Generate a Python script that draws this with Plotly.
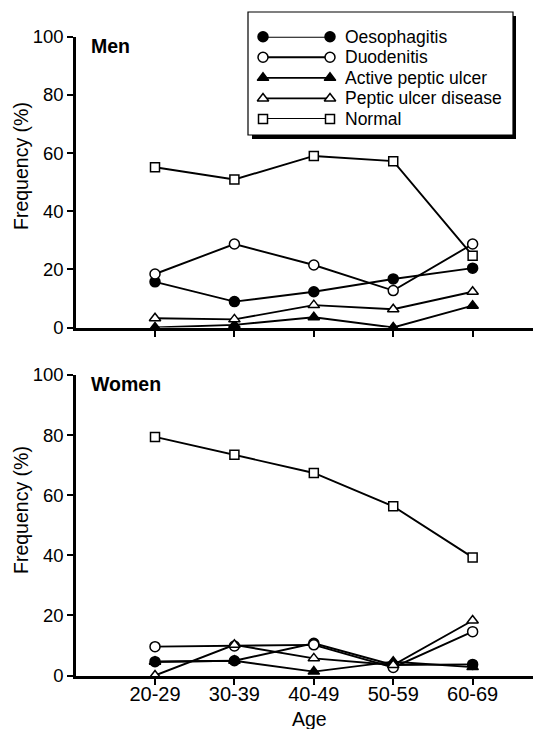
import plotly.graph_objects as go

# ---------------- data ----------------
age_groups = ["20-29", "30-39", "40-49", "50-59", "60-69"]
series_names = ["Oesophagitis", "Duodenitis", "Active peptic ulcer",
                "Peptic ulcer disease", "Normal"]

men_oesophagitis = [15.7, 8.9, 12.3, 16.7, 20.4]
men_duodenitis = [18.4, 28.7, 21.5, 12.7, 28.7]
men_active_ulcer = [0.0, 0.9, 3.5, 0.0, 7.5]
men_ulcer_disease = [3.2, 2.8, 7.7, 6.3, 12.3]
men_normal = [55.1, 50.9, 59.0, 57.2, 24.7]

women_oesophagitis = [4.6, 4.9, 10.7, 3.5, 3.7]
women_duodenitis = [9.6, 9.8, 10.2, 2.7, 14.6]
women_active_ulcer = [4.6, 4.9, 1.3, 4.6, 2.8]
women_ulcer_disease = [0.0, 10.2, 5.7, 3.5, 18.3]
women_normal = [79.4, 73.5, 67.4, 56.3, 39.3]

y_ticks = [0, 20, 40, 60, 80, 100]

# ---------------- geometry ----------------
# the page body has an 8px margin, so the figure is sized to fill the rest of the window
OFF = 8
W, H = 541 - OFF, 729 - OFF
FONT = "Liberation Sans, Arial, Helvetica, sans-serif"
styles = [
    dict(symbol="circle", color="black", size=10),
    dict(symbol="circle", color="white", size=10),
    dict(symbol="triangle-up", color="black", size=10),
    dict(symbol="triangle-up", color="white", size=10),
    dict(symbol="square", color="white", size=9),
]


def px_x(p):
    return (p - OFF) / W


def px_y(p):
    return 1 - (p - OFF) / H


fig = go.Figure()

panels = [
    ("x", "y", [men_oesophagitis, men_duodenitis, men_active_ulcer,
                men_ulcer_disease, men_normal]),
    ("x2", "y2", [women_oesophagitis, women_duodenitis, women_active_ulcer,
                  women_ulcer_disease, women_normal]),
]
for xa, ya, data in panels:
    for name, vals, st in zip(series_names, data, styles):
        fig.add_trace(go.Scatter(
            x=age_groups, y=vals, name=name, xaxis=xa, yaxis=ya,
            mode="lines+markers", cliponaxis=False, showlegend=False,
            line=dict(color="black", width=1.9),
            marker=dict(symbol=st["symbol"], size=st["size"], color=st["color"],
                        line=dict(color="black", width=1.5)),
        ))

# ---------------- custom legend (marker-line-marker) ----------------
for i, (name, st) in enumerate(zip(series_names, styles)):
    fig.add_trace(go.Scatter(
        x=[0, 1], y=[i, i], xaxis="x3", yaxis="y3", mode="lines+markers",
        cliponaxis=False, showlegend=False, hoverinfo="skip",
        line=dict(color="black", width=1.9),
        marker=dict(symbol=st["symbol"], size=st["size"], color=st["color"],
                    line=dict(color="black", width=1.5)),
    ))

leg_top, leg_bot = 36.7, 119.0
annotations = []
for i, name in enumerate(series_names):
    ypix = leg_top + i * (leg_bot - leg_top) / 4
    annotations.append(dict(
        text=name, x=px_x(343), y=px_y(ypix), xref="paper", yref="paper",
        xanchor="left", yanchor="middle", showarrow=False,
        font=dict(family=FONT, size=17.5, color="black")))

# panel titles
annotations.append(dict(text="<b>Men</b>", x=px_x(89), y=px_y(46), xref="paper", yref="paper",
                        xanchor="left", yanchor="middle", showarrow=False,
                        font=dict(family=FONT, size=19.5, color="black")))
annotations.append(dict(text="<b>Women</b>", x=px_x(89), y=px_y(384), xref="paper", yref="paper",
                        xanchor="left", yanchor="middle", showarrow=False,
                        font=dict(family=FONT, size=19.5, color="black")))
# axis titles
for yc in (166, 510):
    annotations.append(dict(text="Frequency (%)", x=px_x(21), y=px_y(yc), xref="paper", yref="paper",
                            xanchor="center", yanchor="middle", textangle=-90, showarrow=False,
                            font=dict(family=FONT, size=19.5, color="black")))
annotations.append(dict(text="Age", x=px_x(309), y=px_y(719), xref="paper", yref="paper",
                        xanchor="center", yanchor="middle", showarrow=False,
                        font=dict(family=FONT, size=19.5, color="black")))

shapes = [
    # shadow
    dict(type="rect", xref="paper", yref="paper", layer="below",
         x0=px_x(252), x1=px_x(516), y0=px_y(139), y1=px_y(16),
         fillcolor="black", line=dict(width=0)),
    # box
    dict(type="rect", xref="paper", yref="paper", layer="below",
         x0=px_x(248), x1=px_x(513), y0=px_y(135), y1=px_y(12),
         fillcolor="white", line=dict(color="black", width=1.2)),
]

x_dom = [px_x(76), 1.0]
x_range = [-0.995, 4.861]
common_x = dict(type="category", range=x_range, showgrid=False, zeroline=False,
                showline=True, linecolor="black", linewidth=2.5,
                ticks="outside", ticklen=7, tickwidth=1.5, tickcolor="black",
                automargin=False, fixedrange=True)
common_y = dict(range=[0, 100], tickvals=y_ticks, showgrid=False, zeroline=False,
                showline=True, linecolor="black", linewidth=2.5,
                ticks="outside", ticklen=6, tickwidth=1.5, tickcolor="black",
                tickfont=dict(family=FONT, size=18.5, color="black"),
                automargin=False, fixedrange=True)

fig.update_layout(
    width=W, height=H,
    margin=dict(l=0, r=0, t=0, b=0, pad=0),
    paper_bgcolor="white", plot_bgcolor="white",
    showlegend=False,
    xaxis=dict(common_x, domain=x_dom, anchor="y", showticklabels=False),
    yaxis=dict(common_y, domain=[px_y(327.5), px_y(36.7)], anchor="x"),
    xaxis2=dict(common_x, domain=x_dom, anchor="y2", showticklabels=True,
                ticklabelstandoff=-8,
                tickfont=dict(family=FONT, size=20, color="black")),
    yaxis2=dict(common_y, domain=[px_y(675.5), px_y(375)], anchor="x2"),
    xaxis3=dict(domain=[px_x(263), px_x(330)], range=[0, 1], visible=False,
                anchor="y3", fixedrange=True),
    yaxis3=dict(domain=[px_y(leg_bot), px_y(leg_top)], range=[4, 0], visible=False,
                anchor="x3", fixedrange=True),
    annotations=annotations,
    shapes=shapes,
    font=dict(family=FONT, color="black"),
)

fig.write_html("out.html")
